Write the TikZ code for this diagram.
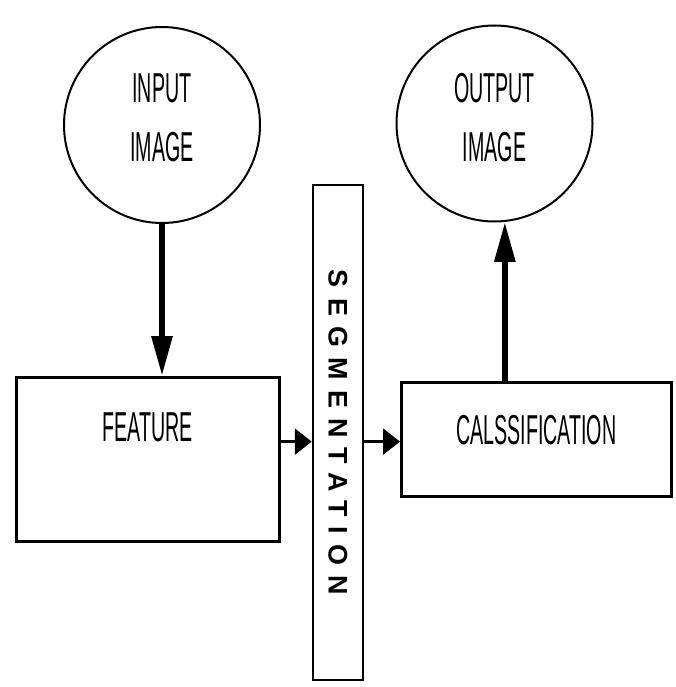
\documentclass[tikz,border=0pt]{standalone}
\usepackage{fontspec}
\setmainfont{Liberation Sans}
\newfontfamily\narrowfont{Liberation Sans}[FakeStretch=0.47]
\newfontfamily\spacedfont{Liberation Sans Bold}[LetterSpace=38]
\usetikzlibrary{arrows.meta}

\begin{document}
\begin{tikzpicture}[x=1bp,y=-1bp,
  stage/.style={draw,circle,line width=2bp,minimum size=196bp,inner sep=0pt},
  caption/.style={inner sep=0pt,align=center,
    font=\narrowfont\fontsize{42}{59}\selectfont},
  block/.style={draw,rectangle,line width=2.5bp,inner sep=0pt,
    font=\narrowfont\fontsize{42}{50}\selectfont},
  bigflow/.style={line width=6bp,-{Triangle[length=40bp,width=20bp]}},
  flow/.style={line width=2.5bp,-{Triangle[length=17bp,width=26bp]}}]

\useasboundingbox (0,0) rectangle (676,687);

% input and output images
\node[stage] (in) at (162,125) {};
\node[caption] (intext) at ([yshift=7bp]in.center) {INPUT\\IMAGE};
\node[stage] (out) at (494.5,123.5) {};
\node[caption] (outtext) at ([yshift=6bp]out.center) {OUTPUT\\IMAGE};

% processing blocks
\node[block, anchor=north west, minimum width=263bp,
      text height=64bp, text depth=100bp] (feat) at (15,376) {FEATURE};
\node[block, anchor=north west, minimum width=270bp,
      text height=62bp, text depth=52bp] (class) at (400,381) {CALSSIFICATION};
% vertical block, label set slightly towards its upper end
\node[block, rotate=-90, minimum width=495bp, minimum height=50bp,
      font=\spacedfont\fontsize{27}{30}\selectfont] (seg) at (338,432.5)
      {SEGMENTATION\hspace{18bp}};

% flow
\draw[bigflow] (in.south) -- (in.south |- feat.north);
\draw[bigflow] (out.-84 |- class.north) -- (out.-84);
\draw[flow] (feat.east |- class.mid) -- (seg.south |- class.mid);
\draw[flow] (seg.north |- class.mid) -- (class.west |- class.mid);
\end{tikzpicture}
\end{document}
